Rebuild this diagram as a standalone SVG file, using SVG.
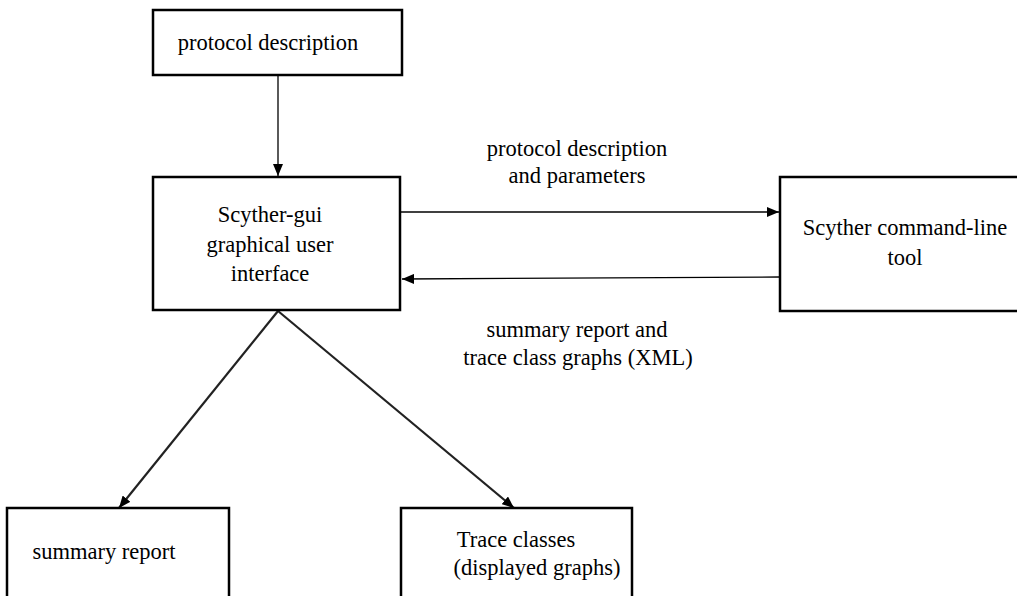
<svg xmlns="http://www.w3.org/2000/svg" width="1017" height="596" viewBox="0 0 1017 596">
<style>
.box{fill:#fff;stroke:#000;stroke-width:2.5}
.t{font-family:"Liberation Serif","Times New Roman",serif;font-size:22.5px;fill:#000}
.c{stroke:#000;stroke-width:1.3;fill:none}
.d{stroke:#222;stroke-width:2.2;fill:none}
</style>
<defs>
<marker id="ah" viewBox="0 0 12 10" refX="12" refY="5" markerWidth="12" markerHeight="10" markerUnits="userSpaceOnUse" orient="auto">
<path d="M0,0 L12,5 L0,10 z" fill="#000"/>
</marker>
</defs>
<rect width="1017" height="596" fill="#fff"/>
<g id="connectors">
<line class="c" x1="278" y1="75" x2="278" y2="176" marker-end="url(#ah)"/>
<line class="c" x1="401" y1="212" x2="779" y2="212" marker-end="url(#ah)"/>
<line class="c" x1="780" y1="277" x2="402" y2="279" marker-end="url(#ah)"/>
<line class="d" x1="278" y1="311" x2="119" y2="508" marker-end="url(#ah)"/>
<line class="d" x1="278" y1="311" x2="514" y2="508" marker-end="url(#ah)"/>
<text class="t" x="577" y="156" text-anchor="middle">protocol description</text>
<text class="t" x="577" y="183" text-anchor="middle">and parameters</text>
<text class="t" x="577" y="337" text-anchor="middle">summary report and</text>
<text class="t" x="578" y="365" text-anchor="middle">trace class graphs (XML)</text>
</g>
<g id="n1">
<rect class="box" x="153" y="10" width="249" height="65"/>
<text class="t" x="268" y="50" text-anchor="middle">protocol description</text>
</g>
<g id="n2">
<rect class="box" x="153" y="177" width="247" height="133"/>
<text class="t" x="270" y="222" text-anchor="middle">Scyther-gui</text>
<text class="t" x="270" y="252" text-anchor="middle">graphical user</text>
<text class="t" x="270" y="281" text-anchor="middle">interface</text>
</g>
<g id="n3">
<rect class="box" x="780" y="177" width="250" height="134"/>
<text class="t" x="905" y="235" text-anchor="middle">Scyther command-line</text>
<text class="t" x="905" y="265" text-anchor="middle">tool</text>
</g>
<g id="n4">
<rect class="box" x="7" y="508" width="222" height="100"/>
<text class="t" x="104" y="559" text-anchor="middle">summary report</text>
</g>
<g id="n5">
<rect class="box" x="401" y="508" width="231" height="100"/>
<text class="t" x="516" y="547" text-anchor="middle">Trace classes</text>
<text class="t" x="537" y="575" text-anchor="middle">(displayed graphs)</text>
</g>
</svg>
